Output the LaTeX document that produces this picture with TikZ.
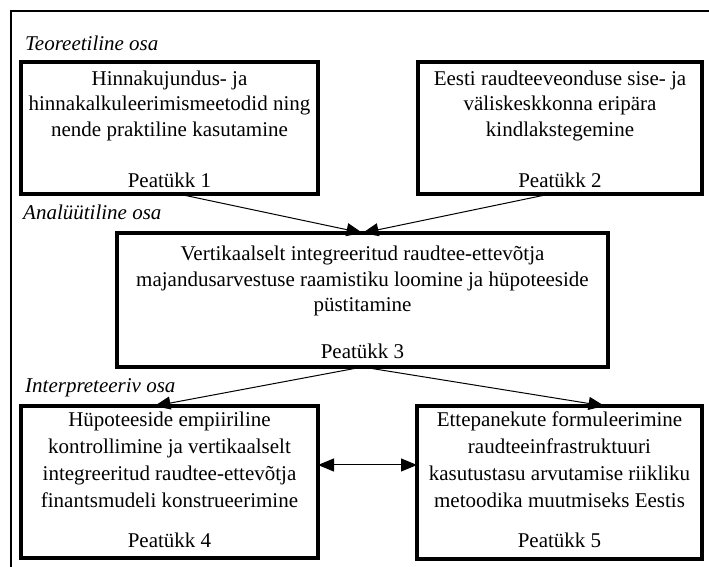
\documentclass[tikz,border=0pt]{standalone}
\usepackage{fontspec}
\setmainfont{Liberation Serif}
\usetikzlibrary{arrows.meta}
\begin{document}
\begin{tikzpicture}[x=1pt,y=1pt,
  box/.style={draw, line width=3.3pt, inner sep=0pt, outer sep=0pt},
  txt/.style={align=center, inner sep=0pt, font=\fontsize{21}{25.5}\selectfont},
  txtb/.style={align=center, inner sep=0pt, font=\fontsize{21}{27}\selectfont},
  chap/.style={anchor=base, inner sep=0pt, font=\fontsize{21}{25}\selectfont},
  lab/.style={anchor=base west, inner sep=0pt, font=\fontsize{21}{25}\selectfont\itshape},
  tip/.tip={Triangle[length=16pt,width=13pt]},
  arr/.style={-tip, line width=1pt},
  darr/.style={tip-tip, line width=1pt}]
\useasboundingbox (0,0) rectangle (709,567);
% frame
\draw[line width=2pt] (11,0) |- (709,555.5);
% boxes
\node[box, minimum width=297pt, minimum height=132pt] (b1) at (169.5,439) {};
\node[box, minimum width=284pt, minimum height=132pt] (b2) at (560,439) {};
\node[box, minimum width=491pt, minimum height=134pt] (b3) at (362.5,267) {};
\node[box, minimum width=297pt, minimum height=152pt] (b4) at (169.5,85) {};
\node[box, minimum width=285pt, minimum height=153pt] (b5) at (559.5,84.5) {};
% section labels
\node[lab] (l1) at (25,516) {Teoreetiline osa};
\node[lab] (l2) at (23,347) {Analüütiline osa};
\node[lab] (l3) at (25,174) {Interpreteeriv osa};
% box texts
\node[txt, anchor=north] (t1) at ([yshift=-8.5pt]b1.north) {Hinnakujundus- ja\\hinnakalkuleerimismeetodid ning\\nende praktiline kasutamine};
\node[chap] (c1) at ([yshift=6pt]b1.south) {Peatükk 1};
\node[txt, anchor=north] (t2) at ([yshift=-8.5pt]b2.north) {Eesti raudteeveonduse sise- ja\\väliskeskkonna eripära\\kindlakstegemine};
\node[chap] (c2) at ([yshift=6pt]b2.south) {Peatükk 2};
\node[txt, anchor=north] (t3) at ([yshift=-13pt]b3.north) {Vertikaalselt integreeritud raudtee-ettevõtja\\majandusarvestuse raamistiku loomine ja hüpoteeside\\püstitamine};
\node[chap] (c3) at ([yshift=8pt]b3.south) {Peatükk 3};
\node[txtb, anchor=north] (t4) at ([yshift=-5.5pt]b4.north) {Hüpoteeside empiiriline\\kontrollimine ja vertikaalselt\\integreeritud raudtee-ettevõtja\\finantsmudeli konstrueerimine};
\node[chap] (c4) at ([yshift=10pt]b4.south) {Peatükk 4};
\node[txtb, anchor=north] (t5) at ([yshift=-5.5pt]b5.north) {Ettepanekute formuleerimine\\raudteeinfrastruktuuri\\kasutustasu arvutamise riikliku\\metoodika muutmiseks Eestis};
\node[chap] (c5) at ([yshift=11pt]b5.south) {Peatükk 5};
% connectors
\draw[arr] ([xshift=9pt]b1.south) -- (b3.north);
\draw[arr] ([xshift=-10pt]b2.south) -- (b3.north);
\draw[arr] (b3.south) -- ([xshift=-15pt]b4.north);
\draw[arr] (b3.south) -- ([xshift=45pt]b5.north);
\draw[darr] ([yshift=17pt]b4.east) -- ([yshift=17pt]b4.east -| b5.west);
\end{tikzpicture}
\end{document}
